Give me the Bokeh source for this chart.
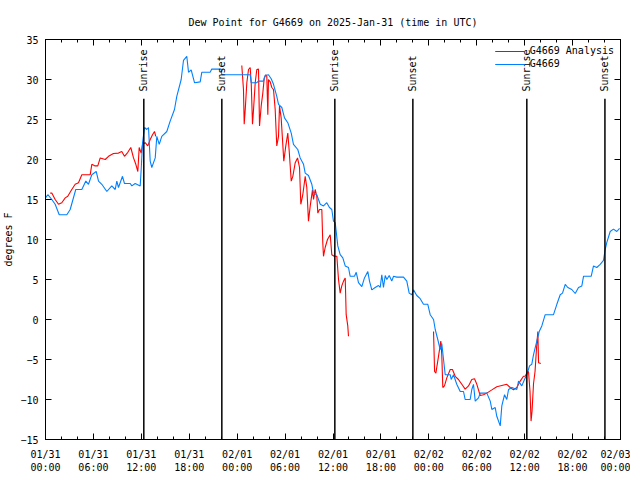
import math
from bokeh.plotting import figure
from bokeh.models import Range1d, FixedTicker, LinearAxis, Legend, LegendItem, ColumnDataSource
from bokeh.core.properties import value
from bokeh.embed import file_html
from bokeh.resources import INLINE

# ---- data (hours since 2025-01-31 00:00 UTC, dew point in degrees F) ----
obs_hours = [0.0, 0.29, 0.79, 1.21, 1.72, 2.67, 3.09, 3.79, 4.55, 5.05, 5.38, 5.80, 6.35, 6.64, 7.05, 7.68,
             8.30, 8.73, 8.93, 9.14, 9.64, 9.89, 10.61, 10.81, 11.23, 11.86, 11.98, 12.15, 12.40, 12.68, 12.90,
             13.11, 13.31, 13.74, 13.94, 14.24, 14.56, 15.19, 15.61, 16.15, 16.44, 16.99, 17.28, 17.69, 17.91,
             18.24, 18.66, 19.37, 19.57, 20.62, 20.82, 22.00, 22.08, 25.63, 25.76, 26.46, 26.67, 27.30, 27.51,
             27.92, 28.26, 28.55, 28.96, 29.18, 29.59, 29.93, 30.34, 30.77, 31.05, 31.59, 31.89, 32.31, 32.52,
             32.93, 33.35, 33.56, 33.97, 34.40, 34.81, 35.22, 35.56, 35.85, 36.06, 36.28, 36.60, 36.90, 37.23,
             37.53, 37.94, 38.15, 38.69, 38.91, 39.19, 39.61, 39.94, 40.36, 40.57, 40.86, 41.28, 41.70, 41.91,
             42.11, 42.32, 42.54, 42.74, 43.04, 43.36, 43.58, 43.99, 44.83, 45.24, 45.54, 45.87, 46.08, 46.49,
             46.92, 47.33, 47.87, 48.17, 48.59, 48.80, 49.12, 49.42, 49.62, 49.84, 50.05, 50.68, 50.80, 51.09,
             51.50, 51.93, 52.34, 52.55, 53.18, 53.38, 53.59, 53.81, 54.22, 54.43, 55.26, 55.69, 55.89, 56.31,
             56.51, 56.94, 57.14, 57.48, 57.76, 57.98, 58.39, 59.02, 59.23, 59.64, 59.98, 60.27, 60.61, 60.89,
             61.11, 61.52, 61.82, 62.15, 62.57, 63.61, 64.03, 64.45, 64.74, 65.08, 65.40, 65.90, 66.33, 66.74,
             67.16, 67.37, 68.33, 68.62, 69.03, 69.46, 69.87, 70.08, 70.28, 70.71, 71.12, 71.54, 71.88]
obs_dewpt = [15.2, 15.6, 15.0, 14.4, 13.1, 13.1, 13.75, 16.25, 16.25, 17.3, 16.9, 18.1, 18.5, 17.3, 16.9, 16.0,
             16.7, 16.25, 17.3, 16.5, 17.9, 17.0, 17.0, 16.7, 17.0, 16.7, 18.75, 22.1, 24.0, 23.75, 24.0,
             19.8, 19.0, 20.2, 22.9, 21.9, 22.9, 23.5, 24.8, 26.25, 27.9, 30.0, 32.4, 32.9, 30.9,
             31.2, 29.6, 29.7, 30.9, 30.9, 31.3, 31.3, 30.6, 30.6, 29.6, 29.6, 29.8, 29.8, 30.5,
             30.6, 30.1, 29.4, 27.9, 26.9, 26.5, 25.2, 24.6, 23.3, 21.9, 21.25, 20.2, 19.4, 18.3,
             18.0, 16.9, 15.8, 15.6, 14.4, 14.2, 14.6, 14.0, 13.75, 12.3, 12.1, 9.2, 8.1, 7.7,
             6.7, 6.5, 5.4, 5.4, 5.9, 4.6, 4.1, 5.2, 6.0, 4.8, 3.7, 4.0, 4.25, 4.0,
             5.6, 4.0, 5.5, 5.0, 5.5, 4.8, 5.4, 5.3, 5.3, 4.8, 3.3, 3.1, 3.7, 3.0,
             2.6, 1.9, 1.9, 0.6, 0.0, -1.25, -2.5, -3.75, -3.0, -5.0, -6.9, -6.9, -7.5, -6.9,
             -8.1, -9.0, -9.0, -10.0, -10.0, -8.75, -8.1, -10.2, -9.8, -9.2, -9.2, -10.2, -11.25, -11.0,
             -12.1, -13.3, -10.8, -9.4, -10.0, -8.75, -8.5, -8.75, -7.7, -8.3, -7.5, -6.9, -5.8, -5.6,
             -4.4, -2.7, -1.5, -0.8, 0.6, 0.6, 1.9, 3.1, 3.3, 4.4, 4.0, 3.75, 3.25, 4.0,
             4.2, 5.4, 5.4, 6.7, 6.5, 6.9, 7.4, 8.75, 9.6, 11.0, 11.3, 11.0, 11.4]

# None marks a gap in the analysis series
ana_hours = [0.59, 0.79, 1.21, 1.63, 2.04, 2.47, 2.79, 3.29, 3.72, 4.13, 4.55, 5.60, 5.80, 6.22, 6.55, 6.85,
             7.48, 7.89, 8.51, 9.14, 9.55, 9.89, 10.31, 10.68, 11.02, 11.31, 11.56, 11.73, 11.98, 12.15, 12.48,
             12.81, 13.11, 13.40, 13.65, 13.81, None,
             24.58, 24.79, 24.88, 25.01, 25.21, 25.42, 25.63, 25.76, 25.92, 26.05, 26.26, 26.46, 26.67, 26.80,
             27.01, 27.21, 27.39, 27.59, 27.71, 27.84, 27.92, 28.14, 28.34, 28.55, 28.76, 28.96, 29.18, 29.30,
             29.51, 29.84, 30.09, 30.34, 30.52, 30.77, 30.97, 31.27, 31.56, 31.81, 31.97, 32.22, 32.52, 32.72,
             32.93, 33.15, 33.43, 33.56, 33.77, 33.97, 34.10, 34.31, 34.60, 34.72, 34.81, 35.02, 35.31, 35.65,
             35.85, 36.15, 36.48, 36.69, 36.90, 37.10, 37.32, 37.53, 37.65, 37.85, 37.94, None,
             48.59, 48.72, 48.88, 49.21, 49.50, 49.62, 49.75, 49.96, 50.25, 50.68, 50.96, 51.30, 51.71, 52.13,
             52.55, 52.97, 53.38, 53.72, 54.01, 54.43, 54.85, 55.26, 55.89, 56.51, 57.14, 57.76, 58.19, 58.60,
             59.02, 59.44, 59.85, 60.07, 60.27, 60.48, 60.67, 60.80, 60.92, 61.11, 61.30, 61.49, 61.65, 61.74,
             62.02]
ana_dewpt = [15.8, 15.8, 15.0, 14.4, 14.6, 15.2, 15.4, 16.25, 16.9, 17.1, 18.1, 18.1, 19.4, 19.2, 19.2, 20.2,
             20.0, 20.4, 20.75, 20.8, 21.0, 20.4, 20.9, 21.5, 20.2, 19.4, 18.5, 21.5, 20.8, 21.9, 22.1,
             21.7, 22.5, 23.1, 23.5, 22.9, None,
             31.75, 28.75, 24.4, 26.25, 29.6, 31.25, 31.5, 29.6, 24.4, 26.25, 29.6, 31.25, 31.3, 24.2,
             26.7, 28.3, 30.2, 30.6, 30.4, 25.6, 30.0, 29.7, 29.0, 28.75, 26.25, 21.7, 22.9, 26.7,
             25.2, 19.8, 21.7, 23.3, 21.0, 17.3, 17.9, 19.6, 20.2, 19.0, 14.4, 15.6, 17.9, 16.5,
             12.3, 14.2, 16.2, 15.0, 16.25, 15.4, 13.3, 13.75, 13.75, 9.6, 7.9, 9.0, 10.0, 10.6,
             8.1, 7.9, 7.9, 5.0, 3.3, 4.2, 4.8, 5.2, 0.6, -0.8, -2.1, None,
             -1.5, -6.5, -6.7, -4.6, -2.7, -4.4, -8.5, -8.3, -7.3, -6.25, -6.25, -7.1, -7.5, -8.1,
             -8.7, -8.3, -7.5, -7.4, -8.1, -9.5, -9.4, -9.2, -8.8, -8.4, -8.25, -8.1, -8.5, -8.8,
             -8.5, -7.7, -7.1, -7.1, -6.7, -6.5, -9.0, -12.7, -11.5, -8.0, -6.5, -3.5, -1.5, -5.4,
             -5.5]

sun_hours = [12.31, 22.08, 36.23, 46.0, 60.27, 70.05]
sun_events = ["Sunrise", "Sunset", "Sunrise", "Sunset", "Sunrise", "Sunset"]
sun_line_top = 27.6
sun_label_y = 28.5

x_ticks = [0, 6, 12, 18, 24, 30, 36, 42, 48, 54, 60, 66, 72]
x_tick_labels = ["01/31\n00:00", "01/31\n06:00", "01/31\n12:00", "01/31\n18:00",
                 "02/01\n00:00", "02/01\n06:00", "02/01\n12:00", "02/01\n18:00",
                 "02/02\n00:00", "02/02\n06:00", "02/02\n12:00", "02/02\n18:00",
                 "02/03\n00:00"]
x_minor = [h for h in range(0, 73, 2)]
y_ticks = [-15, -10, -5, 0, 5, 10, 15, 20, 25, 30, 35]

FONT = "DejaVu Sans Mono"
FS = "10px"
BLUE = "#0080ff"
RED = "#ff0000"

def nanify(seq):
    return [float("nan") if v is None else v for v in seq]

p = figure(frame_width=575, frame_height=400, output_backend="svg", toolbar_location=None,
           x_range=Range1d(0, 72), y_range=Range1d(-15, 35),
           min_border_left=39, min_border_right=10, min_border_top=39, min_border_bottom=32,
           title="Dew Point for G4669 on 2025-Jan-31 (time in UTC)")
p.title.align = "center"
p.title.text_font = FONT
p.title.text_font_size = FS
p.title.text_font_style = "normal"
p.title.text_color = "black"
p.title.standoff = 24
p.grid.visible = False
p.outline_line_color = "black"
p.outline_line_width = 1
p.background_fill_color = "white"
p.border_fill_color = "white"

bottom_ax = p.below[0]
left_ax = p.left[0]

bottom_ax.ticker = FixedTicker(ticks=x_ticks, minor_ticks=x_minor)
bottom_ax.major_label_overrides = {t: l for t, l in zip(x_ticks, x_tick_labels)}
bottom_ax.major_label_standoff = 9

left_ax.ticker = FixedTicker(ticks=y_ticks, minor_ticks=[])
left_ax.axis_label = "degrees F"
left_ax.axis_label_text_font = FONT
left_ax.axis_label_text_font_size = FS
left_ax.axis_label_text_font_style = "normal"
left_ax.axis_label_text_color = "black"
left_ax.axis_label_standoff = 3
left_ax.major_label_standoff = 7

top_ax = LinearAxis(ticker=FixedTicker(ticks=x_ticks, minor_ticks=x_minor))
right_ax = LinearAxis(ticker=FixedTicker(ticks=y_ticks, minor_ticks=[]))
for ax in (top_ax, right_ax):
    ax.major_label_text_font_size = "1px"
    ax.major_label_text_color = None
    ax.major_label_standoff = 0
p.add_layout(top_ax, "above")
p.add_layout(right_ax, "right")

for ax in (bottom_ax, left_ax, top_ax, right_ax):
    ax.axis_line_color = "black"
    ax.major_tick_line_color = "black"
    ax.minor_tick_line_color = "black"
    ax.major_tick_in = 6
    ax.major_tick_out = 0
    ax.minor_tick_in = 3
    ax.minor_tick_out = 0
for ax in (bottom_ax, left_ax):
    ax.major_label_text_font = FONT
    ax.major_label_text_font_size = FS
    ax.major_label_text_color = "black"

r_ana = p.line(nanify(ana_hours), nanify(ana_dewpt), line_color=RED, line_width=1.1)
r_obs = p.line(obs_hours, obs_dewpt, line_color=BLUE, line_width=1.1)

sun_src = ColumnDataSource(dict(x=sun_hours, y0=[-15] * len(sun_hours), y1=[sun_line_top] * len(sun_hours),
                                ly=[sun_label_y] * len(sun_hours), label=sun_events))
p.segment(x0="x", y0="y0", x1="x", y1="y1", source=sun_src, line_color="black", line_width=1.5)
p.text(x="x", y="ly", text="label", source=sun_src, angle=math.pi / 2, text_align="left",
       text_baseline="middle", text_font=value(FONT), text_font_size=FS, text_color="black")

legend = Legend(items=[LegendItem(label="G4669 Analysis", renderers=[r_ana]),
                       LegendItem(label="G4669", renderers=[r_obs])],
                location="top_right")
legend.label_text_font = FONT
legend.label_text_font_size = FS
legend.label_text_color = "black"
legend.background_fill_alpha = 0
legend.border_line_alpha = 0
legend.glyph_width = 30
legend.glyph_height = 10
legend.label_height = 10
legend.spacing = 2
legend.padding = 2
legend.margin = 4
p.add_layout(legend)

open("out.html", "w").write(file_html(p, INLINE))
